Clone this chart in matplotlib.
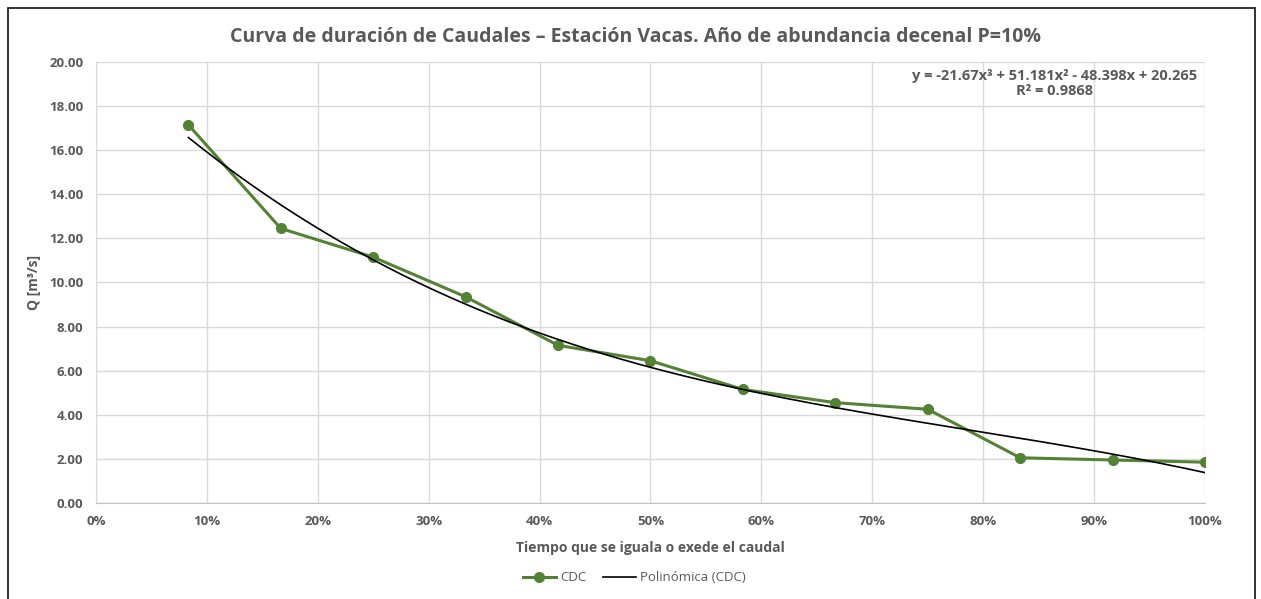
import matplotlib.pyplot as plt
import numpy as np
from matplotlib.patches import Rectangle
from matplotlib.ticker import PercentFormatter, MultipleLocator

# curva de duración de caudales, estación Vacas
tiempo = [1/12, 2/12, 3/12, 4/12, 5/12, 6/12, 7/12, 8/12, 9/12, 10/12, 11/12, 12/12]
caudal = [17.15, 12.45, 11.15, 9.35, 7.15, 6.45, 5.15, 4.55, 4.25, 2.05, 1.95, 1.85]

# ajuste polinómico de tercer grado (coeficientes de mayor a menor grado)
coef_poly = [-21.67, 51.181, -48.398, 20.265]
r2 = 0.9868

gris = '#595959'
verde = '#548235'
plt.rcParams['font.family'] = ['Open Sans', 'DejaVu Sans']

fig = plt.figure(figsize=(12.61, 5.99), dpi=100)
ax = fig.add_axes([0.0761, 0.1603, 0.8795, 0.7362])

# marco exterior del gráfico
fig.patches.append(Rectangle((8/1261, -0.05), 1247/1261, 1 - 8/599 + 0.05,
                             transform=fig.transFigure, fill=False,
                             edgecolor='#222222', linewidth=1.3))

xs = np.linspace(tiempo[0], tiempo[-1], 200)
ax.plot(tiempo, caudal, color=verde, linewidth=2.2, marker='o', markersize=7,
        label='CDC', zorder=3)
ax.plot(xs, np.polyval(coef_poly, xs), color='black', linewidth=1.2,
        label='Polinómica (CDC)', zorder=4)

eq = (f'y = {coef_poly[0]}x³ + {coef_poly[1]}x² - {abs(coef_poly[2])}x + {coef_poly[3]}\n'
      f'R² = {r2}')
ax.text(0.993, 0.985, eq, transform=ax.transAxes, ha='right', va='top',
        multialignment='center', fontsize=10.5, fontweight='bold', color=gris,
        linespacing=1.1)

ax.set_xlim(0, 1)
ax.set_ylim(0, 20)
ax.xaxis.set_major_locator(MultipleLocator(0.1))
ax.xaxis.set_major_formatter(PercentFormatter(1.0, decimals=0))
ax.yaxis.set_major_locator(MultipleLocator(2))
ax.yaxis.set_major_formatter(lambda v, p: f'{v:.2f}')
ax.grid(True, color='#d9d9d9', linewidth=1)
ax.set_axisbelow(True)
for s in ['top', 'right']:
    ax.spines[s].set_visible(False)
ax.spines['left'].set_color('#d9d9d9')
ax.spines['bottom'].set_color('#bfbfbf')
ax.tick_params(length=0, labelsize=9.5, labelcolor=gris, pad=9)
for lbl in ax.get_xticklabels() + ax.get_yticklabels():
    lbl.set_fontweight('bold')

fig.text(636/1261, 1 - 37/599, 'Curva de duración de Caudales – Estación Vacas. Año de abundancia decenal P=10%',
         ha='center', va='center', fontsize=14, fontweight='bold', color=gris)
ax.set_xlabel('Tiempo que se iguala o exede el caudal', fontsize=10,
              fontweight='bold', color=gris, labelpad=9)
ax.set_ylabel('Q [m³/s]', fontsize=10, fontweight='bold', color=gris, labelpad=6)

ax.legend(loc='center', bbox_to_anchor=(0.4855, -0.17), ncol=2, frameon=False,
          fontsize=9.5, labelcolor=gris, handlelength=2.5, columnspacing=1.3,
          handletextpad=0.3)

fig.savefig('out.png', dpi=100)
